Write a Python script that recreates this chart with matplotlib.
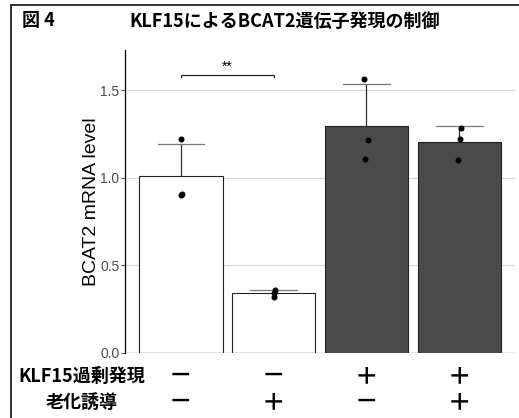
import matplotlib
matplotlib.use("Agg")
import matplotlib.pyplot as plt
from matplotlib.lines import Line2D
import numpy as np

plt.rcParams['font.family'] = ['Liberation Sans', 'DejaVu Sans']
JP = ['Noto Sans CJK JP', 'DejaVu Sans']

# 各群の測定値 (n=3)
groups = ['ctrl', 'senes', 'klf15', 'klf15_senes']
values = [
    [1.22, 0.90, 0.91],
    [0.36, 0.34, 0.32],
    [1.567, 1.217, 1.109],
    [1.287, 1.223, 1.103],
]
jitter = [
    [0.0, 0.0, 0.01],
    [0.01, 0.0, 0.0],
    [-0.03, 0.02, -0.02],
    [0.02, 0.01, -0.01],
]
bar_colors = ['white', 'white', '#4b4b4b', '#4b4b4b']
klf15_row = ['－', '－', '＋', '＋']
senes_row = ['－', '＋', '－', '＋']

means = [np.mean(v) for v in values]
sds = [np.std(v, ddof=1) for v in values]
x = np.arange(1, len(groups) + 1)

fig = plt.figure(figsize=(5.19, 4.18), dpi=100)
ax = fig.add_axes([125 / 519, 65 / 418, 390 / 519, 303 / 418])

# グリッド
for yv in [0.5, 1.0, 1.5]:
    ax.axhline(yv, color='#d9d9d9', lw=0.9, zorder=0)
ax.axhline(0, color='#555555', lw=0.9, zorder=3)

# エラーバー(上側のみ)
for xi, m, s in zip(x, means, sds):
    ax.plot([xi, xi], [m, m + s], color='#333333', lw=0.9, zorder=1)
    ax.plot([xi - 0.25, xi + 0.25], [m + s, m + s], color='#777777', lw=0.9, zorder=1)

ax.bar(x, means, width=0.9, color=bar_colors, edgecolor='#222222', linewidth=0.8, zorder=2)

for xi, v, j in zip(x, values, jitter):
    ax.scatter(xi + np.array(j), v, s=11, color='black', zorder=4)

# 有意差
ax.plot([1, 1, 2, 2], [1.578, 1.59, 1.59, 1.578], color='#222222', lw=0.9)
ax.text(1.5, 1.597, '**', ha='center', va='bottom', fontsize=10)

ax.set_xlim(0.4, 4.6)
ax.set_ylim(0, 1.73)
ax.set_yticks([0.0, 0.5, 1.0, 1.5])
ax.set_yticklabels(['0.0', '0.5', '1.0', '1.5'])
ax.tick_params(axis='y', colors='#555555', labelsize=10, length=3, width=0.8, pad=1)
ax.tick_params(axis='y', labelcolor='#4d4d4d')
ax.set_xticks([])
for sp in ['top', 'right', 'bottom']:
    ax.spines[sp].set_visible(False)
ax.spines['left'].set_color('black')
ax.spines['left'].set_linewidth(0.9)
ax.set_ylabel('BCAT2 mRNA level', fontsize=14, labelpad=0)

# 条件表
def fx(xi):
    return (125 + (xi - 0.4) / 4.2 * 390) / 519

for xi, a, b in zip(x, klf15_row, senes_row):
    fig.text(fx(xi), 1 - 376 / 418, a, ha='center', va='center', fontsize=17,
             fontweight='bold', family=JP)
    fig.text(fx(xi), 1 - 402 / 418, b, ha='center', va='center', fontsize=17,
             fontweight='bold', family=JP)
fig.text(82 / 519, 1 - 376 / 418, 'KLF15過剰発現', ha='center', va='center',
         fontsize=13, fontweight='bold', family=JP)
fig.text(82 / 519, 1 - 402 / 418, '老化誘導', ha='center', va='center',
         fontsize=13, fontweight='bold', family=JP)

# タイトル
fig.text(22 / 519, 1 - 21 / 418, '図 4', ha='left', va='center', fontsize=13,
         fontweight='bold', family=JP)
fig.text(285 / 519, 1 - 21 / 418, 'KLF15によるBCAT2遺伝子発現の制御', ha='center',
         va='center', fontsize=13, fontweight='bold', family=JP)

# 枠線
fig.add_artist(Line2D([11 / 519, 1], [1 - 5 / 418, 1 - 5 / 418], color='#222222',
                      lw=1.3, transform=fig.transFigure))
fig.add_artist(Line2D([11 / 519, 11 / 519], [0, 1 - 5 / 418], color='#222222',
                      lw=1.3, transform=fig.transFigure))

fig.savefig('out.png', dpi=100)
